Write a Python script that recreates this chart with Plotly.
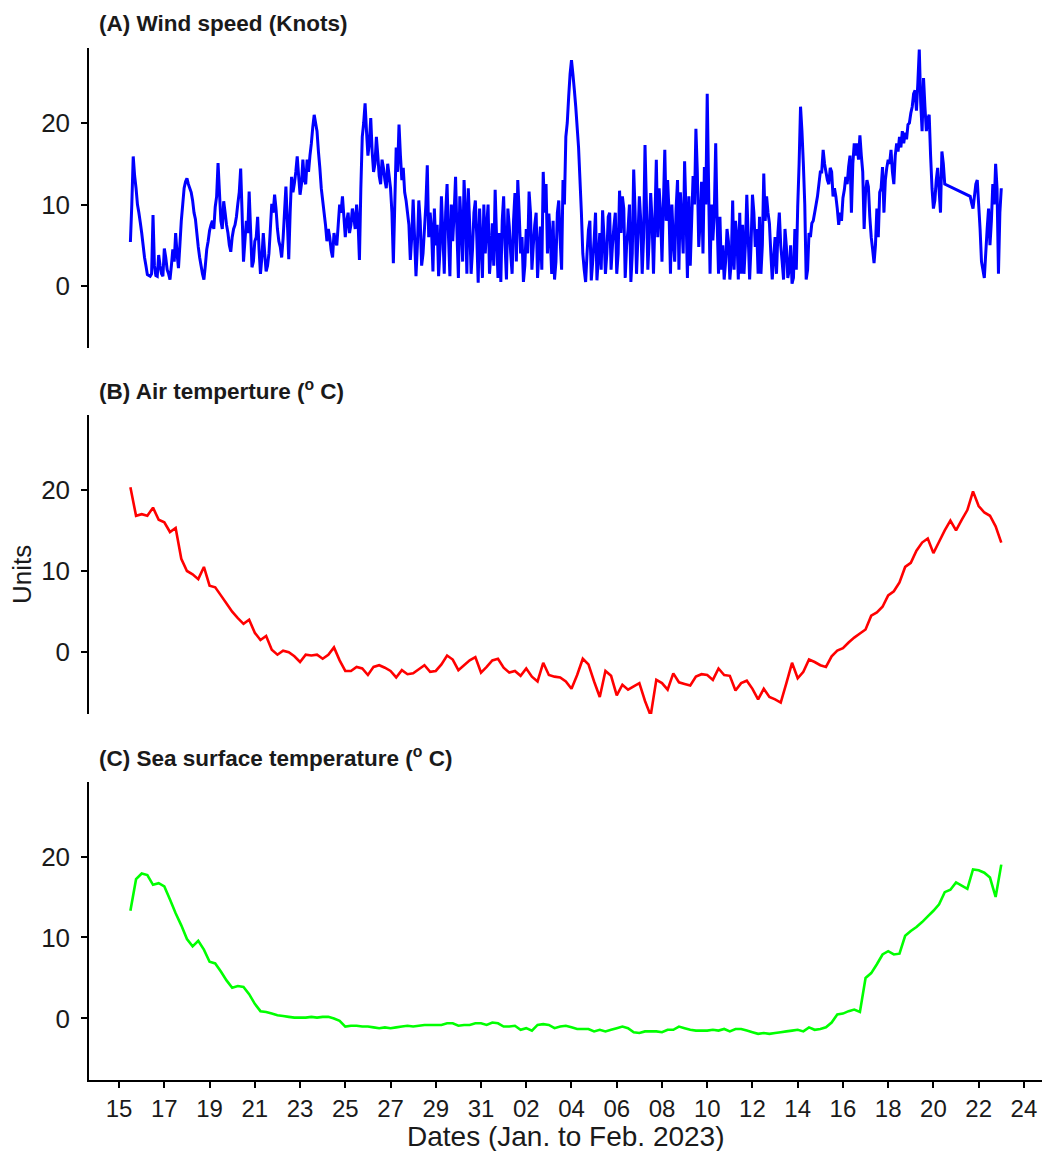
import pandas as pd
import plotly.graph_objects as go

# ---------------- data ----------------
wind_start = "2023-01-15 12:00"
wind_step = "90min"
wind_knots = [
    # Jan 15.5 - Jan 23.1
    5.4, 10.0, 15.9, 13.5, 12.0, 10.0, 9.0, 7.8, 6.5, 5.0,
    3.5, 2.5, 1.4, 1.3, 1.2, 1.5, 8.7, 2.5, 1.3, 1.2,
    3.8, 2.5, 1.5, 1.2, 4.6, 3.5, 2.0, 1.5, 0.8, 2.5,
    4.5, 3.0, 6.5, 4.0, 2.2, 5.0, 8.0, 10.0, 12.0, 12.8,
    13.2, 12.5, 12.0, 11.5, 10.5, 9.0, 8.2, 6.5, 4.8, 3.5,
    2.5, 1.5, 0.8, 2.5, 4.5, 5.5, 6.8, 7.5, 8.0, 7.0,
    9.7, 11.0, 15.1, 11.5, 8.0, 7.0, 10.4, 9.0, 7.5, 6.5,
    5.0, 4.2, 6.0, 7.0, 7.5, 8.5, 10.1, 11.5, 14.4, 9.0,
    3.0, 5.5, 8.0, 6.5, 11.6, 7.0, 2.3, 3.0, 5.5, 6.0,
    8.5, 4.5, 1.5, 3.5, 6.5, 4.0, 1.8, 2.5, 4.0, 7.0,
    10.1, 9.0, 11.2, 9.5, 7.0, 5.5, 4.8, 3.5, 5.8, 9.0,
    12.2, 8.0, 3.3, 9.0, 13.4, 11.5, 12.6, 14.0, 15.9, 13.5,
    11.2, 12.5, 15.5, 13.0,
    # Jan 23.2 - Jan 30.8
    12.5, 15.5, 14.0, 16.0, 17.5, 19.5, 21.0, 20.0, 19.0, 16.5,
    14.5, 12.0, 10.5, 9.0, 7.5, 5.5, 7.0, 6.0, 4.4, 3.5,
    6.5, 5.5, 5.0, 7.5, 10.0, 9.0, 11.0, 8.5, 6.0, 8.0,
    9.0, 6.5, 7.5, 9.5, 8.5, 7.0, 10.0, 8.0, 3.2, 12.0,
    18.3, 20.0, 22.4, 19.0, 16.0, 17.5, 20.6, 16.5, 14.0, 15.0,
    18.3, 16.0, 13.5, 12.5, 15.5, 14.5, 13.0, 12.0, 15.0, 13.5,
    12.0, 9.0, 2.8, 10.0, 17.0, 14.0, 19.8, 16.0, 13.0, 14.5,
    11.5, 10.5, 9.0, 7.5, 3.2, 6.0, 10.6, 6.0, 1.2, 5.0,
    10.5, 8.0, 2.5, 4.0, 7.0, 10.0, 14.8, 6.0, 9.0, 7.0,
    1.8, 9.5, 5.0, 7.5, 1.2, 4.5, 11.0, 6.5, 1.5, 9.0,
    12.5, 6.0, 1.2, 10.0, 5.5, 9.0, 13.4, 6.5, 1.0, 11.0,
    7.5, 3.0, 13.0, 9.0, 1.5, 12.0, 7.5, 1.5, 4.5, 9.0,
    10.5, 6.0, 0.4, 9.5,
    # Jan 31.0 - Feb 7.6
    5.2, 1.0, 10.0, 4.0, 7.3, 10.0, 1.5, 4.0, 7.7, 2.5,
    11.8, 6.0, 1.0, 6.5, 0.5, 8.0, 11.0, 5.0, 0.8, 9.5,
    7.3, 4.0, 1.5, 8.0, 11.4, 3.0, 13.0, 9.0, 4.0, 6.0,
    0.5, 2.5, 7.0, 4.0, 11.6, 9.0, 2.0, 5.0, 7.5, 9.0,
    1.0, 4.5, 7.3, 2.0, 14.0, 9.0, 12.5, 4.0, 8.9, 6.0,
    1.5, 8.0, 0.8, 3.0, 9.0, 10.5, 5.6, 2.0, 13.0, 10.0,
    18.3, 20.0, 23.2, 26.0, 27.7, 26.0, 24.1, 22.0, 19.5, 17.0,
    13.0, 9.0, 4.0, 2.0, 0.5, 4.0, 6.9, 8.0, 0.7, 3.0,
    5.6, 9.0, 0.7, 3.5, 6.5, 2.0, 9.3, 6.0, 1.5, 4.0,
    8.5, 9.0, 2.0, 5.0, 7.3, 9.0, 1.5, 4.0, 11.7, 6.5,
    11.0, 9.5, 1.0, 5.0, 7.0, 10.0, 0.5, 4.0, 14.3, 9.0,
    1.5, 6.0, 11.0, 8.0, 1.5, 6.0, 17.3, 10.0, 2.0, 6.0,
    11.4, 8.0, 1.5, 8.0,
    # Feb 7.8 - Feb 15.3
    15.5, 6.0, 12.0, 9.0, 3.0, 10.0, 16.7, 8.0, 13.0, 9.0,
    1.5, 10.0, 5.6, 3.0, 9.5, 13.0, 2.0, 11.5, 8.0, 4.0,
    15.3, 9.0, 1.0, 11.0, 2.5, 8.0, 13.5, 10.0, 19.3, 14.0,
    4.8, 8.0, 12.8, 4.0, 14.6, 10.0, 23.6, 12.0, 1.5, 10.0,
    5.6, 9.0, 17.5, 8.0, 1.5, 8.5, 2.0, 5.0, 0.8, 3.0,
    7.0, 5.5, 0.8, 3.0, 10.5, 2.0, 8.0, 6.0, 0.8, 9.0,
    1.5, 7.5, 1.5, 5.0, 11.2, 6.0, 0.8, 5.0, 11.2, 9.0,
    4.8, 7.0, 1.5, 8.5, 1.5, 5.0, 13.8, 8.0, 11.0, 9.0,
    7.7, 4.0, 0.8, 3.5, 6.0, 1.5, 6.5, 9.0, 5.0, 3.0,
    0.8, 7.0, 4.8, 1.0, 2.0, 5.0, 0.3, 1.0, 7.0, 2.0,
    9.7, 15.0, 22.0, 19.0, 15.0, 10.0, 0.8, 2.0, 6.5, 6.0,
    7.7, 8.0, 9.0, 10.0, 11.0, 12.5, 14.0, 14.0, 16.7, 15.0,
    14.0, 13.0,
    # Feb 15.4 - Feb 22.9 (gap with no readings Feb 20.6 - Feb 21.6)
    12.5, 14.5, 14.0, 11.0, 12.0, 11.0, 9.5, 7.5, 9.0, 8.0,
    10.8, 11.8, 13.4, 12.5, 14.6, 16.0, 9.0, 15.0, 17.5, 16.0,
    17.5, 15.5, 18.5, 16.0, 14.0, 7.0, 11.5, 13.0, 12.2, 8.5,
    6.0, 4.5, 2.8, 5.0, 9.5, 6.0, 11.5, 12.0, 14.6, 9.0,
    13.0, 14.5, 15.5, 15.0, 16.7, 14.0, 12.5, 16.0, 17.5, 16.5,
    18.3, 17.0, 19.0, 17.5, 18.8, 18.0, 19.8, 20.0, 21.2, 22.0,
    23.6, 24.0, 21.5, 25.0, 29.0, 22.5, 19.0, 25.5, 22.0, 19.0,
    20.5, 21.0, 16.0, 12.0, 9.5, 10.5, 13.0, 14.5, 11.8, 9.0,
    16.5, 15.0, 12.5,
    None, None, None, None, None, None, None, None, None, None,
    None, None, None, None, None, None, None,
    11.0, 10.2, 9.5, 11.0, 12.5, 13.0, 10.0, 7.0, 3.0, 2.0,
    1.0, 4.0, 7.0, 9.5, 5.0, 8.0, 12.5, 10.0, 15.0, 12.0,
    1.5, 9.0, 12.0,
]

temp_start = "2023-01-15 12:00"
temp_step = "6h"
air_temp_c = [
    20.3, 16.8, 17.0, 16.8, 17.8, 16.3, 16.0, 14.8, 15.3, 11.5,
    10.0, 9.6, 9.0, 10.5, 8.2, 8.0, 7.0, 6.0, 5.0, 4.2,
    3.5, 4.0, 2.4, 1.5, 2.0, 0.3, -0.3, 0.2, 0.0, -0.5,
    -1.2, -0.3, -0.4, -0.3, -0.8, -0.3, 0.6, -1.0, -2.3, -2.3,
    -1.8, -2.0, -2.8, -1.8, -1.6, -1.9, -2.3, -3.1, -2.2, -2.7,
    -2.6, -2.1, -1.6, -2.4, -2.3, -1.5, -0.4, -0.9, -2.2, -1.6,
    -1.0, -0.6, -2.5, -1.8, -1.0, -0.8, -1.9, -2.5, -2.3, -2.9,
    -2.0, -3.0, -3.6, -1.3, -2.8, -3.0, -3.1, -3.6, -4.5, -2.8,
    -0.8, -1.5, -3.6, -5.5, -2.3, -2.9, -5.3, -4.0, -4.6, -4.2,
    -3.8, -6.0, -7.8, -3.4, -3.8, -4.6, -2.6, -3.7, -3.9, -4.1,
    -3.0, -2.7, -2.8, -3.4, -2.0, -2.8, -2.9, -4.7, -3.8, -3.5,
    -4.5, -5.8, -4.5, -5.5, -5.8, -6.2, -3.8, -1.3, -3.2, -2.4,
    -0.9, -1.2, -1.6, -1.8, -0.5, 0.2, 0.5, 1.2, 1.8, 2.3,
    2.8, 4.5, 4.9, 5.6, 7.0, 7.5, 8.6, 10.5, 11.0, 12.5,
    13.5, 14.0, 12.2, 13.6, 15.0, 16.2, 15.0, 16.3, 17.5, 19.8,
    18.0, 17.2, 16.8, 15.5, 13.5,
]

sea_temp_c = [
    13.3, 17.2, 17.9, 17.7, 16.5, 16.7, 16.3, 14.7, 13.0, 11.5,
    9.8, 8.9, 9.6, 8.5, 7.0, 6.8, 5.8, 4.7, 3.8, 4.0,
    3.9, 3.0, 1.8, 0.9, 0.8, 0.6, 0.4, 0.3, 0.2, 0.1,
    0.1, 0.1, 0.2, 0.1, 0.2, 0.2, 0.0, -0.3, -1.0, -0.9,
    -0.9, -1.0, -1.0, -1.1, -1.2, -1.1, -1.2, -1.1, -1.0, -0.9,
    -1.0, -0.9, -0.8, -0.8, -0.8, -0.8, -0.6, -0.6, -0.9, -0.8,
    -0.8, -0.6, -0.6, -0.8, -0.5, -0.6, -1.0, -1.0, -0.9, -1.4,
    -1.2, -1.5, -0.8, -0.7, -0.8, -1.2, -1.0, -0.9, -1.1, -1.3,
    -1.3, -1.3, -1.6, -1.4, -1.6, -1.4, -1.2, -1.0, -1.2, -1.7,
    -1.8, -1.6, -1.6, -1.6, -1.7, -1.4, -1.4, -1.0, -1.2, -1.4,
    -1.5, -1.5, -1.5, -1.4, -1.5, -1.3, -1.6, -1.3, -1.3, -1.5,
    -1.7, -1.9, -1.8, -1.9, -1.8, -1.7, -1.6, -1.5, -1.4, -1.6,
    -1.1, -1.4, -1.3, -1.1, -0.5, 0.5, 0.6, 0.9, 1.1, 0.8,
    5.0, 5.6, 6.7, 7.9, 8.3, 7.9, 8.0, 10.2, 10.8, 11.3,
    11.9, 12.6, 13.3, 14.1, 15.6, 15.9, 16.8, 16.4, 16.0, 18.4,
    18.3, 18.0, 17.4, 15.0, 19.0,
]

tick_dates = ["2023-01-15", "2023-01-17", "2023-01-19", "2023-01-21", "2023-01-23",
              "2023-01-25", "2023-01-27", "2023-01-29", "2023-01-31", "2023-02-02",
              "2023-02-04", "2023-02-06", "2023-02-08", "2023-02-10", "2023-02-12",
              "2023-02-14", "2023-02-16", "2023-02-18", "2023-02-20", "2023-02-22",
              "2023-02-24"]
tick_labels = ["15", "17", "19", "21", "23", "25", "27", "29", "31", "02", "04",
               "06", "08", "10", "12", "14", "16", "18", "20", "22", "24"]
y_ticks = [0, 10, 20]

panel_titles = ["<b>(A) Wind speed (Knots)</b>",
                "<b>(B) Air temperture (<sup>o</sup> C)</b>",
                "<b>(C) Sea surface temperature (<sup>o</sup> C)</b>"]
x_title = "Dates (Jan. to Feb. 2023)"
y_title = "Units"

# ---------------- figure ----------------
W, H = 1046, 1151
wind_t = pd.date_range(wind_start, periods=len(wind_knots), freq=wind_step)
temp_t = pd.date_range(temp_start, periods=len(air_temp_c), freq=temp_step)

base = pd.Timestamp("2023-01-15")
x_range = [base + pd.Timedelta(days=-1.33), base + pd.Timedelta(days=40.8)]
y_range = [-7.6, 29.2]

FONT = "Liberation Sans, Arial, sans-serif"
INK = "#1a1a1a"

fig = go.Figure()
series = [(wind_t, wind_knots, "#0000FF", 3.0),
          (temp_t, air_temp_c, "#FF0000", 2.6),
          (temp_t, sea_temp_c, "#00FF00", 2.6)]
for k, (t, v, c, lw) in enumerate(series):
    sfx = "" if k == 0 else str(k + 1)
    fig.add_trace(go.Scatter(x=t, y=v, mode="lines", connectgaps=True,
                             line=dict(color=c, width=lw, simplify=False),
                             xaxis="x" + sfx, yaxis="y" + sfx,
                             showlegend=False, hoverinfo="skip"))

# panel pixel extents (top, bottom)
panels = [(48, 348), (415, 714), (782, 1080)]
xdom = [89 / W, 1042 / W]
layout = dict(width=W, height=H, margin=dict(l=0, r=0, t=0, b=0),
              paper_bgcolor="white", plot_bgcolor="white",
              font=dict(family=FONT, color="black"))
for k, (top, bot) in enumerate(panels):
    sfx = "" if k == 0 else str(k + 1)
    last = k == 2
    layout["xaxis" + sfx] = dict(
        domain=xdom, anchor="y" + sfx, type="date", range=x_range,
        tickmode="array", tickvals=tick_dates, ticktext=tick_labels,
        showticklabels=last, showline=last, linecolor="black", linewidth=1.5,
        ticks="outside" if last else "", ticklen=6, tickwidth=1.5, tickcolor="black",
        tickfont=dict(family=FONT, size=24, color=INK),
        showgrid=False, zeroline=False, fixedrange=True)
    layout["yaxis" + sfx] = dict(
        domain=[1 - bot / H, 1 - top / H], anchor="x" + sfx, range=y_range,
        tickmode="array", tickvals=y_ticks, ticktext=[str(v) for v in y_ticks],
        showline=True, linecolor="black", linewidth=1.5,
        ticks="outside", ticklen=6, tickwidth=1.5, tickcolor="black",
        tickfont=dict(family=FONT, size=26, color=INK),
        ticklabelstandoff=6,
        showgrid=False, zeroline=False, fixedrange=True)
fig.update_layout(**layout)

title_y = [23, 390, 757]
for txt, yy in zip(panel_titles, title_y):
    fig.add_annotation(text=txt, xref="paper", yref="paper", x=97 / W, y=1 - yy / H,
                       xanchor="left", yanchor="middle", showarrow=False,
                       font=dict(family=FONT, size=22.5, color=INK))
fig.add_annotation(text=y_title, xref="paper", yref="paper", x=22 / W, y=1 - 575 / H,
                   xanchor="center", yanchor="middle", textangle=-90, showarrow=False,
                   font=dict(family=FONT, size=26, color=INK))
fig.add_annotation(text=x_title, xref="paper", yref="paper", x=566 / W, y=1 - 1136 / H,
                   xanchor="center", yanchor="middle", showarrow=False,
                   font=dict(family=FONT, size=28, color=INK))

fig.write_html("out.html", config={"displayModeBar": False},
               post_script="document.body.style.margin='0';document.body.style.overflow='hidden';")
